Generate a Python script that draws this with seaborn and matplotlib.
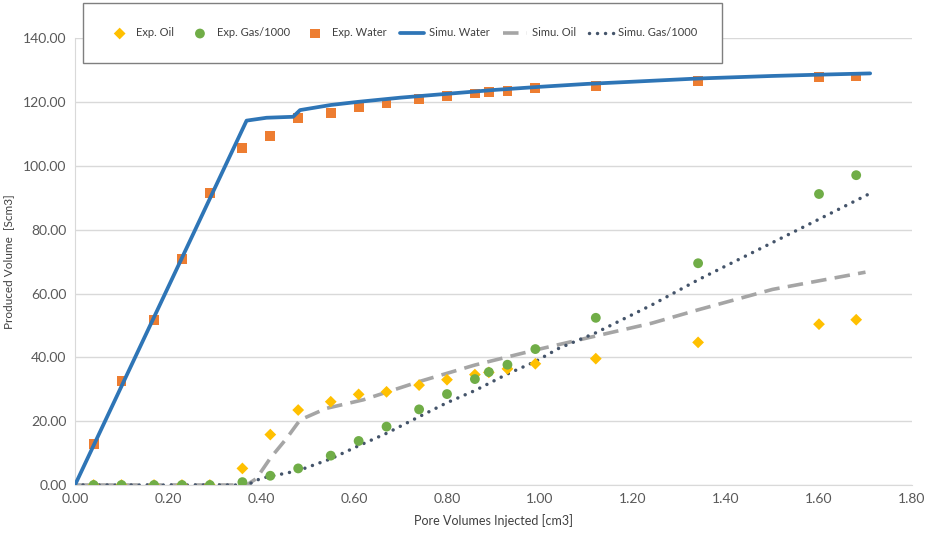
import numpy as np
import pandas as pd
import matplotlib
matplotlib.use("Agg")
import matplotlib.pyplot as plt
import seaborn as sns

# ---- experimental data ----
exp_x = [0.04, 0.10, 0.17, 0.23, 0.29, 0.36, 0.42, 0.48, 0.55, 0.61, 0.67,
         0.74, 0.80, 0.86, 0.89, 0.93, 0.99, 1.12, 1.34, 1.60, 1.68]
exp_water = [12.8, 32.6, 51.7, 70.8, 91.4, 105.5, 109.5, 115.1, 116.7, 118.4, 119.6,
             121.0, 121.9, 122.7, 123.1, 123.5, 124.3, 125.0, 126.5, 127.8, 128.0]
exp_oil = [0.0, 0.0, 0.0, 0.0, 0.0, 5.2, 15.8, 23.5, 26.1, 28.4, 29.2,
           31.3, 33.0, 34.6, 35.3, 36.4, 38.0, 39.6, 44.7, 50.4, 51.8]
exp_gas = [0.0, 0.0, 0.0, 0.0, 0.0, 0.9, 2.9, 5.2, 9.2, 13.8, 18.3,
           23.7, 28.5, 33.2, 35.4, 37.7, 42.6, 52.4, 69.5, 91.2, 97.1]

# ---- simulation curves ----
sim_water_x = [0.00, 0.369, 0.412, 0.469, 0.484, 0.55, 0.61, 0.70, 0.80, 0.90,
               1.00, 1.10, 1.20, 1.34, 1.50, 1.60, 1.71]
sim_water_y = [0.0, 114.2, 115.1, 115.4, 117.5, 119.1, 120.1, 121.4, 122.6, 123.8,
               124.8, 125.7, 126.4, 127.4, 128.2, 128.6, 129.0]

sim_oil_x = [0.00, 0.369, 0.39, 0.42, 0.455, 0.484, 0.54, 0.62, 0.74, 0.86, 0.99,
             1.12, 1.24, 1.34, 1.50, 1.70]
sim_oil_y = [0.0, 0.0, 2.0, 8.4, 14.6, 20.4, 24.0, 26.7, 32.4, 37.6, 42.3,
             46.7, 50.7, 54.9, 61.3, 66.7]

sim_gas_x = [0.00, 0.37, 0.40, 0.48, 0.55, 0.61, 0.67, 0.74, 0.80, 0.86, 0.93,
             0.99, 1.04, 1.12, 1.24, 1.34, 1.60, 1.71]
sim_gas_y = [0.0, 0.0, 2.1, 4.5, 8.2, 12.3, 16.2, 21.4, 25.8, 29.6, 34.8,
             38.7, 42.8, 47.7, 56.4, 64.3, 83.3, 91.4]

x_ticks = [0.0, 0.2, 0.4, 0.6, 0.8, 1.0, 1.2, 1.4, 1.6, 1.8]
y_ticks = [0, 20, 40, 60, 80, 100, 120, 140]

sns.set_style("white")
plt.rcParams['font.family'] = ['Lato', 'DejaVu Sans']

fig = plt.figure(figsize=(9.31, 5.36), dpi=100)
ax = fig.add_axes([75/931, 1-485/536, (912-75)/931, (485-38.3)/536])

df_exp = pd.DataFrame({"x": exp_x, "water": exp_water, "oil": exp_oil, "gas": exp_gas})

sns.scatterplot(data=df_exp, x="x", y="oil", ax=ax, marker="D", s=36, color="#FFC000",
                edgecolor="none", label="Exp. Oil", zorder=3)
sns.scatterplot(data=df_exp, x="x", y="gas", ax=ax, marker="o", s=50, color="#70AD47",
                edgecolor="none", label="Exp. Gas/1000", zorder=3)
sns.scatterplot(data=df_exp, x="x", y="water", ax=ax, marker="s", s=50, color="#ED7D31",
                edgecolor="none", label="Exp. Water", zorder=3)

sns.lineplot(x=sim_water_x, y=sim_water_y, ax=ax, color="#2E75B6", lw=2.7,
             sort=False, estimator=None, label="Simu. Water", zorder=4)
sns.lineplot(x=sim_oil_x, y=sim_oil_y, ax=ax, color="#A5A5A5", lw=2.6,
             sort=False, estimator=None, label="Simu. Oil", zorder=2)
ax.lines[-1].set_linestyle((0, (4.3, 2.3)))
sns.lineplot(x=sim_gas_x, y=sim_gas_y, ax=ax, color="#44546A", lw=2.5,
             sort=False, estimator=None, label="Simu. Gas/1000", zorder=2)
ax.lines[-1].set_linestyle((0, (0.01, 2.3)))
ax.lines[-1].set_dash_capstyle("round")

ax.set_xlim(0, 1.8)
ax.set_ylim(0, 140)
ax.set_xticks(x_ticks)
ax.set_yticks(y_ticks)
ax.set_xticklabels([f"{v:.2f}" for v in x_ticks])
ax.set_yticklabels([f"{v:.2f}" for v in y_ticks])
ax.tick_params(axis="both", labelsize=10, colors="#595959", length=0, pad=6)
ax.grid(axis="y", color="#D9D9D9", lw=1)
ax.grid(axis="x", visible=False)
for s in ["top", "right"]:
    ax.spines[s].set_visible(False)
ax.spines["bottom"].set_color("#D9D9D9")
ax.spines["left"].set_color("#D9D9D9")
ax.set_axisbelow(True)

ax.set_xlabel("Pore Volumes Injected [cm3]", fontsize=9, color="#404040", labelpad=6)
ax.set_ylabel("Produced Volume  [Scm3]", fontsize=8.5, color="#404040")
ax.yaxis.set_label_coords(-61/837, 0.5)

handles, labels = ax.get_legend_handles_labels()
ax.get_legend().remove()
leg = fig.legend(handles, labels, loc="upper left", ncol=6,
                 bbox_to_anchor=(83/931, 1-65/536, 639/931, 62/536), mode="expand",
                 fontsize=8, frameon=True, fancybox=False, edgecolor="#7F7F7F",
                 framealpha=1, handlelength=2.2, handletextpad=0.4, columnspacing=0.8,
                 borderaxespad=0, borderpad=2.2)
leg.get_frame().set_linewidth(1.0)
for t in leg.get_texts():
    t.set_color("#404040")

fig.savefig("out.png", dpi=100)
